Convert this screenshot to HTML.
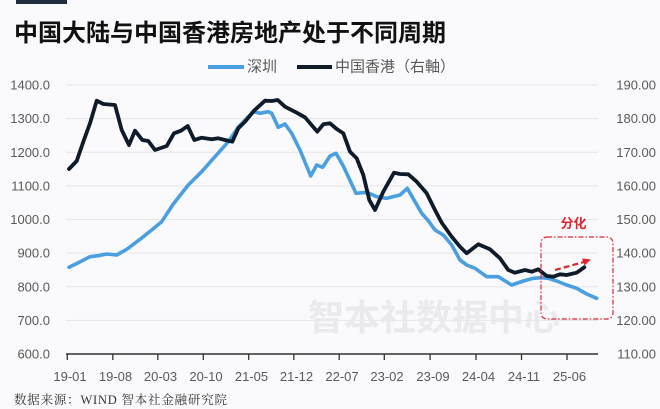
<!DOCTYPE html>
<html><head><meta charset="utf-8"><style>
html,body{margin:0;padding:0;background:#fafafc;}
svg{display:block;}
</style></head><body>
<svg width="660" height="409" viewBox="0 0 660 409" xmlns="http://www.w3.org/2000/svg">
<rect width="660" height="409" fill="#fafafc"/>
<rect x="16" y="0" width="51" height="4" fill="#1e2c3c"/>
<text x="14" y="41" font-family="Liberation Sans, Noto Sans CJK SC, sans-serif" font-weight="bold" font-size="24" fill="#111" textLength="432">中国大陆与中国香港房地产处于不同周期</text>
<!-- legend -->
<line x1="208" y1="67" x2="244" y2="67" stroke="#4a9fe0" stroke-width="4"/>
<text x="247" y="67" dominant-baseline="central" font-family="Liberation Sans, Noto Sans CJK SC, sans-serif" font-size="15" fill="#595959">深圳</text>
<line x1="297" y1="67" x2="332" y2="67" stroke="#0f1b2a" stroke-width="4"/>
<text x="335" y="67" dominant-baseline="central" font-family="Liberation Sans, Noto Sans CJK SC, sans-serif" font-size="15" fill="#595959" textLength="120">中国香港（右軸）</text>
<!-- gridlines -->
<g stroke="#e6e6ea" stroke-width="1">
<line x1="66" y1="85" x2="598" y2="85"/>
<line x1="66" y1="118.6" x2="598" y2="118.6"/>
<line x1="66" y1="152.3" x2="598" y2="152.3"/>
<line x1="66" y1="185.9" x2="598" y2="185.9"/>
<line x1="66" y1="219.5" x2="598" y2="219.5"/>
<line x1="66" y1="253.1" x2="598" y2="253.1"/>
<line x1="66" y1="286.8" x2="598" y2="286.8"/>
<line x1="66" y1="320.4" x2="598" y2="320.4"/>
</g>
<!-- watermark -->
<text x="308" y="330" font-family="Liberation Sans, Noto Sans CJK SC, sans-serif" font-weight="bold" font-size="36" fill="#eaeaee" textLength="252">智本社数据中心</text>
<!-- left axis labels -->
<g font-family="Liberation Sans, sans-serif" font-size="13" fill="#595959" text-anchor="end" dominant-baseline="central">
<text x="50" y="85">1400.0</text>
<text x="50" y="118.6">1300.0</text>
<text x="50" y="152.3">1200.0</text>
<text x="50" y="185.9">1100.0</text>
<text x="50" y="219.5">1000.0</text>
<text x="50" y="253.1">900.0</text>
<text x="50" y="286.8">800.0</text>
<text x="50" y="320.4">700.0</text>
<text x="50" y="354">600.0</text>
</g>
<g font-family="Liberation Sans, sans-serif" font-size="13" fill="#595959" text-anchor="end" dominant-baseline="central">
<text x="656" y="85">190.00</text>
<text x="656" y="118.6">180.00</text>
<text x="656" y="152.3">170.00</text>
<text x="656" y="185.9">160.00</text>
<text x="656" y="219.5">150.00</text>
<text x="656" y="253.1">140.00</text>
<text x="656" y="286.8">130.00</text>
<text x="656" y="320.4">120.00</text>
<text x="656" y="354">110.00</text>
</g>
<!-- x axis -->
<line x1="66" y1="354" x2="598" y2="354" stroke="#333" stroke-width="1.5"/>
<g stroke="#333" stroke-width="1.3">
<line x1="67.3" y1="354" x2="67.3" y2="360"/>
<line x1="112.8" y1="354" x2="112.8" y2="360"/>
<line x1="157.8" y1="354" x2="157.8" y2="360"/>
<line x1="203.3" y1="354" x2="203.3" y2="360"/>
<line x1="248.7" y1="354" x2="248.7" y2="360"/>
<line x1="293.8" y1="354" x2="293.8" y2="360"/>
<line x1="339.2" y1="354" x2="339.2" y2="360"/>
<line x1="384.3" y1="354" x2="384.3" y2="360"/>
<line x1="430.1" y1="354" x2="430.1" y2="360"/>
<line x1="476" y1="354" x2="476" y2="360"/>
<line x1="521.5" y1="354" x2="521.5" y2="360"/>
<line x1="567" y1="354" x2="567" y2="360"/>
</g>
<g font-family="Liberation Sans, sans-serif" font-size="13" fill="#595959" text-anchor="middle">
<text x="70" y="381">19-01</text>
<text x="115.5" y="381">19-08</text>
<text x="160.5" y="381">20-03</text>
<text x="206" y="381">20-10</text>
<text x="251.5" y="381">21-05</text>
<text x="296.5" y="381">21-12</text>
<text x="342" y="381">22-07</text>
<text x="387" y="381">23-02</text>
<text x="433" y="381">23-09</text>
<text x="478.5" y="381">24-04</text>
<text x="524" y="381">24-11</text>
<text x="569.5" y="381">25-06</text>
</g>
<!-- series -->
<polyline fill="none" stroke="#4a9fe0" stroke-width="3.6" stroke-linejoin="round" stroke-linecap="round" points="69,267.3 78.3,262.7 90,256.7 98.3,255.7 106.7,254 116.7,255 126.7,249.3 140,239.3 151.7,230 161.7,221.7 173.3,204 188.3,185 201.7,171.7 215,156.7 228.3,141.7 238.3,127 253.3,111.7 260,113.3 268.3,111.7 271.7,113.3 278.3,127.3 285,124 291.7,133.3 300,150 310.7,176 316.7,165 322.7,167.3 330,156 336,153.3 343.3,166 356,193.3 366.7,192.3 376.7,196.7 386.7,198.3 400,195 407.3,188.3 415,201.7 421.7,213.3 428.3,220.7 435,230 443.3,235 451.7,245 460,260 466.7,265 475,268.3 486.7,276.7 498.3,276.7 511.7,285 523.3,281 533.3,278.3 541.7,277.7 548.3,278.3 556.7,281 566.7,285 576.7,288.3 586.7,294 596.7,298.3"/>
<polyline fill="none" stroke="#0f1b2a" stroke-width="3.8" stroke-linejoin="round" stroke-linecap="round" points="69,169 76.7,161 83.3,141.7 90,123.3 96.7,100.7 103.3,104 115,105 121.7,130 129,145 135,130.7 142.3,140 148.3,141 155,150 166.7,146 174,133.3 181,130.7 187.7,126 194.3,140 201.7,137.7 211.7,139.3 218.3,138.3 225,140 232.3,141.7 238.3,128.3 245,121.7 254,110.7 265,100.7 271.7,101 277.7,100 285,106.7 296.7,112.7 305,117.3 317.3,131.7 323.3,124.3 330,123.3 336.7,129 343.3,133.3 350,151.7 356.7,158.3 363.3,175 369.3,200 375,210 383.3,191.7 394,172.7 400,174 408.3,174.3 416.7,181.7 426.7,193.3 435,210 441.7,222.7 451.7,236.7 460,246.7 466.7,253.3 478.3,244.3 490,249.3 500,258.3 508.3,270 515,272.7 525,270 531.7,271.7 538.3,269.3 546.7,276 553.3,276.7 560,274.3 566.7,275 576.7,272.7 584.3,267.3"/>
<!-- annotation -->
<rect x="541" y="237" width="72" height="82" rx="6" ry="6" fill="none" stroke="#e0262b" stroke-width="1.2" stroke-dasharray="5 2 1.5 2"/>
<text x="573.5" y="228" text-anchor="middle" font-family="Liberation Sans, Noto Sans CJK SC, sans-serif" font-weight="bold" font-size="13" fill="#e0262b">分化</text>
<line x1="555" y1="270" x2="584" y2="262" stroke="#e0262b" stroke-width="2.2" stroke-dasharray="6 3"/>
<polygon points="591,259.5 582,258.5 584.5,265.5" fill="#e0262b"/>
<!-- source -->
<text x="14" y="404" font-family="Liberation Serif, Noto Serif CJK SC, serif" font-size="12.5" fill="#333" textLength="213">数据来源：WIND 智本社金融研究院</text>
</svg>
</body></html>
